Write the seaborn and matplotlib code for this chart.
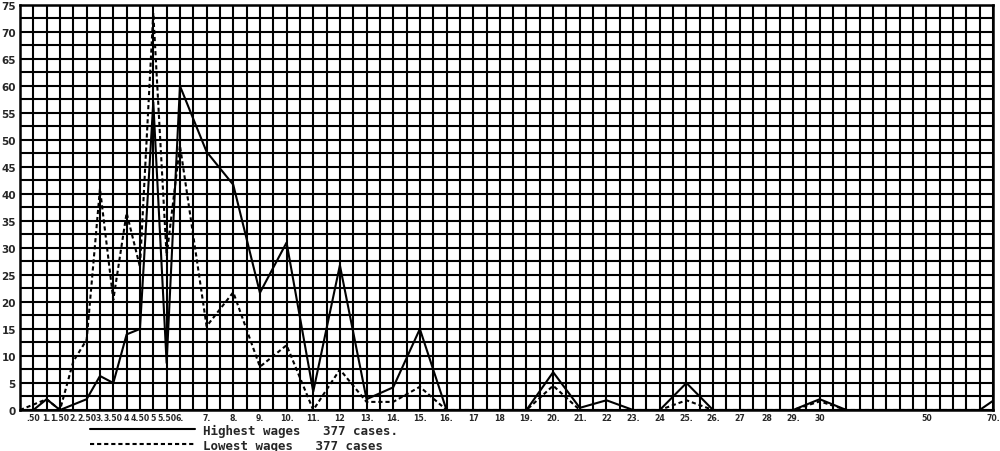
import matplotlib
matplotlib.use("Agg")
import matplotlib.pyplot as plt
import seaborn as sns
import pandas as pd

# ---- data (column index on the chart grid -> number of cases) ----
tick_cols = [1, 2, 3, 4, 5, 6, 7, 8, 9, 10, 11, 12, 14, 16, 18, 20, 22, 24, 26, 28,
             30, 32, 34, 36, 38, 40, 42, 44, 46, 48, 50, 52, 54, 56, 58, 60, 68, 73]
tick_labels = [".50", "1.", "1.50", "2.", "2.50", "3.", "3.50", "4", "4.50", "5", "5.50",
               "6.", "7.", "8.", "9.", "10.", "11.", "12", "13.", "14.", "15.", "16.",
               "17", "18", "19.", "20.", "21.", "22", "23.", "24", "25.", "26.", "27",
               "28", "29.", "30", "50", "70."]

high_cols = [0, 1, 2, 3, 4, 5, 6, 7, 8, 9, 10, 11, 12, 14, 16, 18, 20, 22, 24, 26, 28,
             30, 32, 38, 40, 42, 44, 46, 48, 50, 52, 58, 60, 62, 72, 73]
high_vals = [0, 0, 2, 0, 1, 2, 6.3, 5, 14, 15, 57, 8.7, 60, 47.8, 41.7, 21.7, 31, 3.4,
             26.8, 2, 4.2, 15, 0, 0, 7, 0.4, 1.8, 0, 0, 5, 0, 0, 2, 0, 0, 1.7]

low_cols = [0, 1, 2, 3, 4, 5, 6, 7, 8, 9, 10, 11, 12, 14, 16, 18, 20, 22, 24, 26, 28,
            30, 32, 38, 40, 42, 48, 50, 52, 58, 60, 62, 73]
low_vals = [0, 1, 2, 0, 9, 13, 41, 20.4, 36.5, 26.5, 73.5, 28.5, 49, 15.5, 21.8, 8, 12,
            0, 7.5, 1.5, 1.5, 4.3, 0, 0, 4.5, 0, 0, 1.8, 0, 0, 1.6, 0, 0]

series_labels = ["Highest wages   377 cases.", "Lowest wages   377 cases"]

sns.set_style("white")
plt.rcParams['font.family'] = ['DejaVu Sans']

fig = plt.figure(figsize=(10, 4.52), dpi=100)
ax = fig.add_axes([0.020, 0.0907, 0.973, 0.8963])

df_high = pd.DataFrame({"col": high_cols, "cases": high_vals})
df_low = pd.DataFrame({"col": low_cols, "cases": low_vals})

sns.lineplot(data=df_high, x="col", y="cases", ax=ax, color="black", lw=1.5,
             label=series_labels[0], zorder=5)
sns.lineplot(data=df_low, x="col", y="cases", ax=ax, color="black", lw=1.5,
             linestyle=(0, (2, 1.4)), label=series_labels[1], zorder=5)

ax.set_xlim(0, 73)
ax.set_ylim(0, 75)

ax.set_xticks(tick_cols)
ax.set_xticklabels(tick_labels, fontsize=5.6, fontweight="bold",
                   family=["Liberation Sans Narrow", "DejaVu Sans"])
ax.set_xticks(range(0, 74), minor=True)
ax.set_yticks(range(0, 76, 5))
ax.set_yticklabels([str(v) for v in range(0, 76, 5)], fontsize=7.5, fontweight="bold")
ax.set_yticks([v * 2.5 for v in range(31)], minor=True)

ax.grid(which="both", color="black", lw=1.5)
ax.set_axisbelow(True)
ax.tick_params(which="both", length=0)
ax.tick_params(axis="x", pad=2)
ax.tick_params(axis="y", pad=3)
ax.set_xlabel("")
ax.set_ylabel("")
for s in ax.spines.values():
    s.set_color("black")
    s.set_linewidth(1.8)

leg = ax.legend(loc="upper left", bbox_to_anchor=(0.072, -0.034), frameon=False,
                prop={"family": "DejaVu Sans Mono", "weight": "bold", "size": 9},
                handlelength=8.4, handletextpad=0.65, labelspacing=0.15,
                borderaxespad=0, borderpad=0)

fig.savefig("out.png", dpi=100, facecolor="white")
